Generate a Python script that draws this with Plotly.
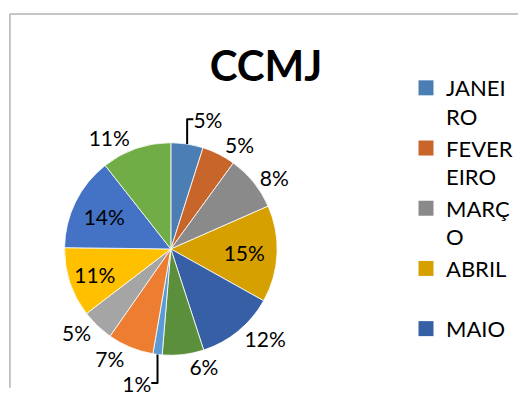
import plotly.graph_objects as go

months = ["JANEIRO", "FEVEREIRO", "MARÇO", "ABRIL", "MAIO", "JUNHO",
          "JULHO", "AGOSTO", "SETEMBRO", "OUTUBRO", "NOVEMBRO", "DEZEMBRO"]
values = [4.9, 5.1, 8.4, 14.7, 11.9, 6.3, 1.4, 7.0, 4.9, 10.6, 14.2, 10.6]
colors = ["#4A7EB4", "#C7652A", "#8A8A8A", "#D5A000", "#365FA5", "#5C8F3B",
          "#5B9BD5", "#ED7D31", "#A5A5A5", "#FFC000", "#4472C4", "#70AD47"]
legend_labels = ["JANEI<br>RO", "FEVER<br>EIRO", "MARÇ<br>O", "ABRIL<br> ", "MAIO"]
text_pos = ["outside", "outside", "outside", "inside", "outside", "outside",
            "outside", "outside", "outside", "inside", "inside", "outside"]

FONT = "Lato"

fig = go.Figure()
fig.add_trace(go.Pie(
    labels=months, values=values, sort=False, direction="clockwise", rotation=0,
    marker=dict(colors=colors, line=dict(color="white", width=0.8)),
    texttemplate="%{percent:.0%}", textposition=text_pos,
    insidetextorientation="horizontal",
    textfont=dict(family=FONT, size=21, color="black"),
    domain=dict(x=[61.5/518, 283.5/518], y=[30/401, 252/401]),
    showlegend=False, hoverinfo="label+percent",
))
for lab, col in zip(legend_labels, colors[:5]):
    fig.add_trace(go.Scatter(
        x=[None], y=[None], mode="markers", name=lab,
        marker=dict(symbol="square", size=15, color=col),
    ))

fig.update_layout(
    width=518, height=401,
    margin=dict(l=0, r=0, t=0, b=0),
    paper_bgcolor="white", plot_bgcolor="white",
    xaxis=dict(visible=False), yaxis=dict(visible=False),
    title=dict(text="<b>CCMJ</b>", x=266/518, xanchor="center",
               y=1 - 66/401, yanchor="middle",
               font=dict(family=FONT, size=42, color="black")),
    legend=dict(x=410/518, xanchor="left", y=1 - 70/401, yanchor="top",
                valign="top", bgcolor="rgba(0,0,0,0)",
                font=dict(family=FONT, size=22, color="black"),
                itemwidth=30, tracegroupgap=0),
    shapes=[
        dict(type="line", xref="paper", yref="paper", x0=10/518, x1=1.01,
             y0=1 - 14.5/401, y1=1 - 14.5/401, line=dict(color="#B3B3B3", width=1.5)),
        dict(type="line", xref="paper", yref="paper", x0=10/518, x1=10/518,
             y0=1 - 14.5/401, y1=-0.01, line=dict(color="#B3B3B3", width=1.5)),
    ],
)
fig.write_html("out.html", config={"displayModeBar": False},
               post_script="document.body.style.margin='0px';document.body.style.overflow='hidden';")
